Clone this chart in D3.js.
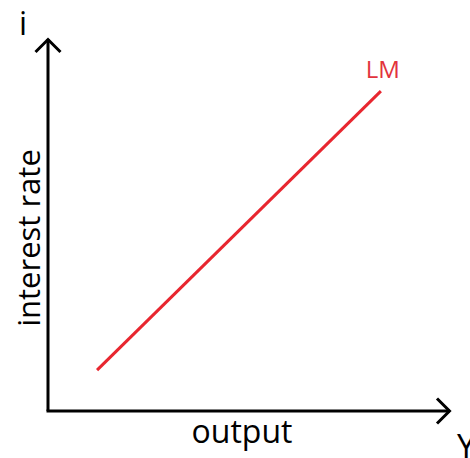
<!DOCTYPE html>
<html><head><meta charset="utf-8">
<script src="https://cdn.jsdelivr.net/npm/d3@7"></script>
<style>html,body{margin:0;padding:0;background:#fff;overflow:hidden}svg{display:block}</style>
</head><body>
<script>
const lmX = [1.22, 8.28];
const lmY = [1.1, 8.6];
const curveLabel = "LM";
const xAxisLabel = "output";
const yAxisLabel = "interest rate";
const xSymbol = "Y";
const ySymbol = "i";

const W = 470, H = 458;
const svg = d3.select("body").append("svg").attr("width", W).attr("height", H);
const x = d3.scaleLinear().domain([0, 10]).range([48, 450]);
const y = d3.scaleLinear().domain([0, 10]).range([411, 39]);
const font = "'Open Sans', 'Noto Sans', sans-serif";

// axes
svg.append("line").attr("x1", x(0)).attr("y1", y(0)).attr("x2", x(0)).attr("y2", y(10))
  .attr("stroke", "#000").attr("stroke-width", 3);
svg.append("line").attr("x1", x(0) - 1.5).attr("y1", y(0)).attr("x2", x(10)).attr("y2", y(0))
  .attr("stroke", "#000").attr("stroke-width", 3);
// arrowheads
svg.append("path").attr("d", `M${x(0)-12.5},${y(10)+13}L${x(0)},${y(10)+0.5}L${x(0)+12.5},${y(10)+13}`)
  .attr("fill", "none").attr("stroke", "#000").attr("stroke-width", 3);
svg.append("path").attr("d", `M${x(10)-13},${y(0)-12.5}L${x(10)-0.5},${y(0)}L${x(10)-13},${y(0)+12.5}`)
  .attr("fill", "none").attr("stroke", "#000").attr("stroke-width", 3);

// LM line
const data = lmX.map((d, i) => [d, lmY[i]]);
svg.append("path").datum(data)
  .attr("d", d3.line().x(d => x(d[0])).y(d => y(d[1])))
  .attr("fill", "none").attr("stroke", "#e8262f").attr("stroke-width", 3);

svg.append("text").attr("x", x(lmX[1]) + 2).attr("y", y(lmY[1]) - 13)
  .attr("text-anchor", "middle").attr("font-family", font).attr("font-size", 24)
  .attr("fill", "#e2333c").text(curveLabel);

// labels
svg.append("text").attr("x", 242).attr("y", 443).attr("text-anchor", "middle")
  .attr("font-family", font).attr("font-size", 32).attr("fill", "#000").text(xAxisLabel);
svg.append("text").attr("transform", "translate(40,238) rotate(-90)").attr("text-anchor", "middle")
  .attr("font-family", font).attr("font-size", 31).attr("fill", "#000").text(yAxisLabel);
svg.append("text").attr("x", 23).attr("y", 35).attr("text-anchor", "middle")
  .attr("font-family", font).attr("font-size", 32).attr("fill", "#000").text(ySymbol);
svg.append("text").attr("x", 457).attr("y", 458).attr("text-anchor", "start")
  .attr("font-family", font).attr("font-size", 33).attr("fill", "#000").text(xSymbol);
</script>
</body></html>
